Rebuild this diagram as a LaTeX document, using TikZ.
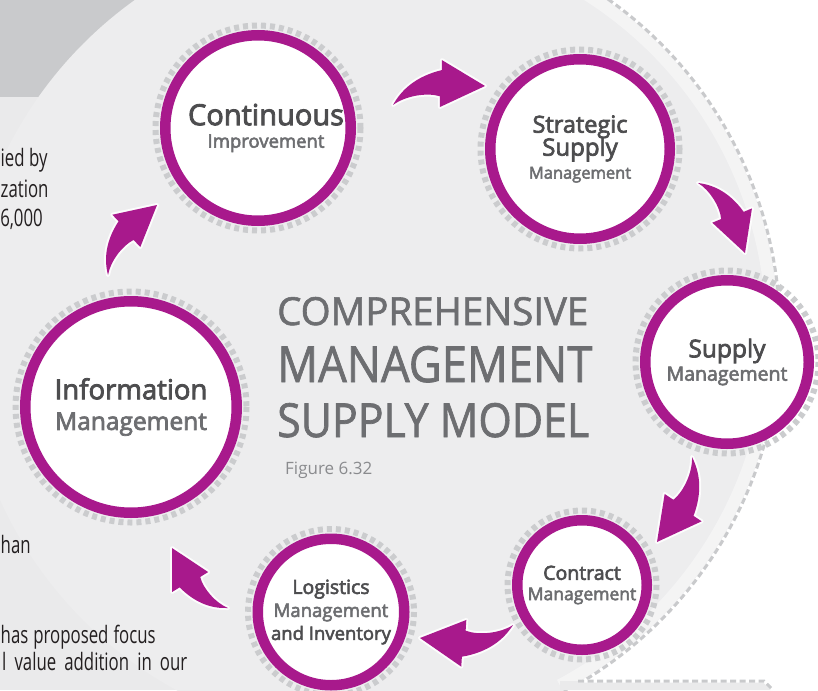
\documentclass[tikz,border=0pt]{standalone}
\usepackage{fontspec}
\setmainfont{Open Sans}
\newfontfamily\labelfont[FakeBold=3]{Open Sans}
\newfontfamily\titlefont[FakeBold=1.5]{Open Sans}
\newfontfamily\bodyfont[FakeStretch=0.7]{Open Sans}
\usepackage{graphicx}
\usepackage{xcolor}
\usepackage{tikz}
\usetikzlibrary{calc}

\definecolor{plum}{HTML}{A8198C}
\definecolor{inkdark}{HTML}{4D4D4F}
\definecolor{inkmid}{HTML}{6D6E71}
\definecolor{dashgrey}{HTML}{CBCCCE}
\definecolor{edgegrey}{HTML}{C9CACC}
\definecolor{discgrey}{HTML}{EDEDEE}
\definecolor{colgrey}{HTML}{EAEAEB}
\definecolor{cornergrey}{HTML}{C9CACC}
\definecolor{bodyink}{HTML}{231F20}
\definecolor{figgrey}{HTML}{8A8B8E}

\newcommand\stagegap[1]{\labelfont\fontsize{18}{#1}\selectfont\lineskiplimit=-50pt\relax}
\newcommand\sz[2]{{\fontsize{#1}{#1}\selectfont#2}}
\newcommand\bodytext{\bodyfont\fontsize{24}{24}\selectfont}
% curved block arrow from tail coordinate #1 to tip coordinate #2
\newcommand\swoosh[2]{%
  \pgfpointdiff{\pgfpointanchor{#1}{center}}{\pgfpointanchor{#2}{center}}%
  \pgfgetlastxy{\swdx}{\swdy}%
  \pgfmathsetmacro\swang{atan2(\swdy,\swdx)}%
  \pgfmathsetmacro\swlen{veclen(\swdx,\swdy)}%
  \fill[swooshfill, shift={(#1)}, rotate=\swang, x=\swlen pt, y=\swlen pt]
    (0,0) .. controls (0.12,0.14) and (0.3,0.25) .. (0.586,0.259)
    -- (0.607,0.363) -- (1,0) -- (0.485,-0.122) -- (0.508,-0.01)
    .. controls (0.38,0.06) and (0.15,0.07) .. (0,0) -- cycle;}

\begin{document}
\begin{tikzpicture}[x=1pt, y=-1pt,
    stage/.style={circle, draw=plum, line width=10.5pt, fill=white, align=center, text=inkmid, inner sep=0pt},
    dashring/.style={draw=dashgrey, line width=6pt, dash pattern=on 5pt off 4pt},
    discedge/.style={draw=edgegrey, line width=3pt, dash pattern=on 6pt off 3.5pt, preaction={draw=white, solid, line width=3pt}},
    swooshfill/.style={fill=plum, preaction={draw=white, line width=4pt, line join=round, draw opacity=.85}},
    titleline/.style={anchor=base west, inner sep=0pt, text=inkmid, font=\titlefont},
    bodyline/.style={inner sep=0pt, text=bodyink, font=\bodytext}]
  \useasboundingbox (0,0) rectangle (818,690);
  \clip (0,0) rectangle (818,690);
  % background
  \fill[white] (0,0) rectangle (818,690);
  \fill[colgrey] (0,0) rectangle (430,690);
  \fill[cornergrey] (0,0) rectangle (200,97);
  \fill[discgrey] (372,332) circle[radius=408];
  \draw[white, line width=12pt, opacity=.4] (372,332) ++(-60:400) arc[start angle=-60, end angle=62, radius=400];
  \draw[discedge] (372,332) ++(-60:408) arc[start angle=-60, end angle=62, radius=408];
  \fill[colgrey] (560,681) -- (764,681) -- (773,690) -- (560,690) -- cycle;
  \draw[discedge] (578,681) -- (764,681) -- (773,690);

  % stages
  \node[stage, minimum size=185.5pt, font=\stagegap{22.5}] (ci) at (258,128)
    {\hspace*{16pt}\sz{29}{\color{inkdark}Continuous}\\\hspace*{16pt}\sz{18.5}{Improvement}};
  \node[stage, minimum size=179.5pt, font=\stagegap{23}] (ss) at (580,149)
    {\sz{23.5}{\color{inkdark}Strategic}\\\sz{24}{\color{inkdark}Supply}\\\sz{16.5}{Management}};
  \node[stage, minimum size=163.5pt, font=\stagegap{23.3}] (su) at (727,362)
    {\sz{24.5}{\color{inkdark}Supply}\\\sz{19.5}{Management}};
  \node[stage, minimum size=129.5pt, font=\stagegap{20.3}] (cm) at (582,585)
    {\sz{19.5}{\color{inkdark}Contract}\\\sz{17.5}{Management}};
  \node[stage, minimum size=146.5pt, font=\stagegap{23}] (lm) at (331,612)
    {\sz{19.5}{\color{inkdark}Logistics}\\\sz{18.5}{Management}\\\sz{18.5}{\color{inkdark}and Inventory}};
  \node[stage, minimum size=211.5pt, font=\stagegap{30.6}] (im) at (131,407)
    {\sz{27.5}{\color{inkdark}Information}\\\sz{24.5}{Management}};
  \foreach \n/\r in {ci/102.5, ss/99.5, su/91.5, cm/74.5, lm/83, im/115.5}
    \draw[dashring] (\n) circle[radius=\r];

  % arrows between stages
  \coordinate (a1t) at (393,105); \coordinate (a1h) at (485,86);
  \coordinate (a2t) at (698,183); \coordinate (a2h) at (745,253);
  \coordinate (a3t) at (692,457); \coordinate (a3h) at (657,542);
  \coordinate (a4t) at (513,625); \coordinate (a4h) at (420,638);
  \coordinate (a5t) at (228,608); \coordinate (a5h) at (172,548);
  \coordinate (a6t) at (108,275); \coordinate (a6h) at (157,205);
  \foreach \a in {1,...,6}
    \swoosh{a\a t}{a\a h};

  % title
  \node[titleline] (ttl1) at (277,325) {\resizebox{311pt}{28pt}{COMPREHENSIVE}};
  \node[titleline] (ttl2) at (277,382) {\resizebox{315pt}{36pt}{MANAGEMENT}};
  \node[titleline] (ttl3) at (277,437) {\resizebox{312pt}{34pt}{SUPPLY MODEL}};
  \node[titleline, text=figgrey, font=\fontsize{17}{17}\selectfont] (fig) at (285,474.5) {Figure 6.32};

  % page text at the left edge
  \node[bodyline, anchor=base west] (p1) at (0.5,166.5) {ied by};
  \node[bodyline, anchor=base west] (p2) at (0.5,197.3) {zation};
  \node[bodyline, anchor=base east] (p3) at (43,226.7) {6,000};
  \node[bodyline, anchor=base west] (p4) at (0.5,553.3) {han};
  \node[bodyline, anchor=base west] (p5) at (0.5,643) {\makebox[155pt][s]{has proposed focus}};
  \node[bodyline, anchor=base west] (p6) at (2,670) {\makebox[185pt][s]{l value addition in our}};
\end{tikzpicture}
\end{document}
